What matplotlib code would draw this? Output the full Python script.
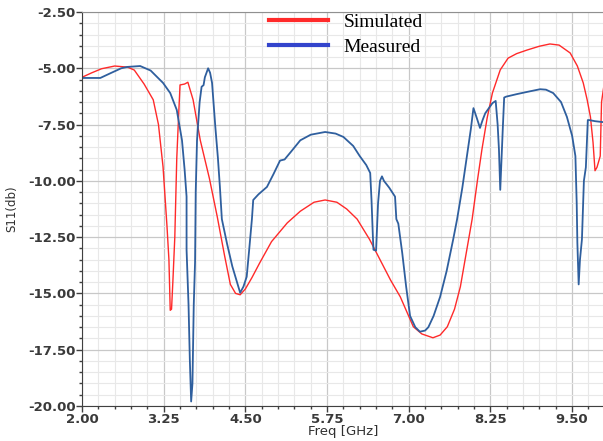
import matplotlib
matplotlib.use('Agg')
import matplotlib.pyplot as plt
from matplotlib.lines import Line2D
from matplotlib.ticker import MultipleLocator, FormatStrFormatter

plt.rcParams['font.family'] = 'DejaVu Sans'

# Simulated S11 (red)
sim_freq = [2.00, 2.15, 2.30, 2.50, 2.70, 2.80, 2.95, 3.09, 3.17, 3.24, 3.30, 3.33,
            3.35, 3.37, 3.39, 3.42, 3.45, 3.48, 3.50, 3.57, 3.62, 3.70, 3.81, 3.95,
            4.07, 4.18, 4.27, 4.35, 4.42, 4.50, 4.60, 4.72, 4.90, 5.14, 5.34, 5.55,
            5.72, 5.90, 6.05, 6.21, 6.40, 6.56, 6.72, 6.87, 7.07, 7.20, 7.37, 7.48,
            7.59, 7.70, 7.79, 7.88, 7.97, 8.05, 8.12, 8.20, 8.28, 8.40, 8.52, 8.65,
            8.81, 9.00, 9.16, 9.30, 9.47, 9.58, 9.67, 9.73, 9.78, 9.82, 9.85, 9.88,
            9.93, 9.95, 10.00]
sim_s11 = [-5.40, -5.20, -5.02, -4.90, -4.95, -5.08, -5.70, -6.40, -7.50, -9.38, -12.0, -13.5,
           -15.75, -15.70, -14.5, -12.5, -9.0, -7.0, -5.74, -5.70, -5.62, -6.4, -8.2, -9.9,
           -11.6, -13.3, -14.6, -15.0, -15.06, -14.8, -14.3, -13.64, -12.7, -11.87, -11.35, -10.95,
           -10.85, -10.95, -11.25, -11.7, -12.6, -13.5, -14.4, -15.15, -16.48, -16.80, -16.97, -16.85,
           -16.48, -15.7, -14.7, -13.2, -11.7, -10.0, -8.6, -7.2, -6.1, -5.07, -4.55, -4.35,
           -4.19, -4.02, -3.92, -3.97, -4.32, -4.9, -5.65, -6.4, -7.16, -8.3, -9.55, -9.4,
           -8.9, -6.5, -5.5]

# Measured S11 (blue)
meas_freq = [2.00, 2.28, 2.45, 2.60, 2.69, 2.89, 3.05, 3.24, 3.35, 3.45, 3.53, 3.57,
             3.60, 3.60, 3.63, 3.65, 3.67, 3.69, 3.71, 3.73, 3.74, 3.76, 3.80, 3.83,
             3.86, 3.88, 3.93, 3.96, 3.99, 4.04, 4.08, 4.11, 4.14, 4.22, 4.30, 4.42,
             4.47, 4.52, 4.56, 4.60, 4.62, 4.70, 4.83, 4.93, 5.03, 5.10, 5.20, 5.34,
             5.50, 5.72, 5.88, 6.00, 6.15, 6.25, 6.35, 6.41, 6.43, 6.45, 6.46, 6.50,
             6.53, 6.56, 6.59, 6.62, 6.70, 6.79, 6.81, 6.84, 6.90, 6.96, 7.02, 7.10,
             7.17, 7.25, 7.30, 7.38, 7.48, 7.58, 7.68, 7.74, 7.82, 7.89, 7.95, 7.99,
             8.04, 8.09, 8.13, 8.17, 8.28, 8.33, 8.36, 8.38, 8.40, 8.42, 8.44, 8.46,
             8.49, 8.65, 8.81, 9.01, 9.10, 9.21, 9.33, 9.42, 9.50, 9.55, 9.57, 9.58,
             9.60, 9.62, 9.65, 9.68, 9.71, 9.74, 9.76, 9.85, 10.00]
meas_s11 = [-5.43, -5.43, -5.20, -5.00, -4.94, -4.90, -5.10, -5.65, -6.10, -6.85, -8.2, -9.5,
            -10.7, -13.06, -15.5, -17.95, -19.8, -19.0, -15.5, -13.6, -10.5, -8.2, -6.5, -5.82,
            -5.75, -5.4, -5.0, -5.2, -5.65, -7.6, -9.0, -10.27, -11.7, -12.8, -13.8, -14.97,
            -14.7, -14.26, -13.0, -11.7, -10.85, -10.6, -10.27, -9.7, -9.1, -9.05, -8.7, -8.2,
            -7.95, -7.83, -7.90, -8.05, -8.45, -8.9, -9.3, -9.65, -10.85, -12.4, -13.06, -13.1,
            -11.0, -10.0, -9.8, -10.0, -10.3, -10.7, -11.7, -11.9, -13.2, -14.7, -16.0, -16.5,
            -16.7, -16.65, -16.5, -16.0, -15.15, -14.0, -12.6, -11.7, -10.3, -8.9, -7.7, -6.77,
            -7.2, -7.65, -7.3, -7.0, -6.55, -6.45, -7.5, -8.6, -10.4, -9.0, -7.6, -6.3,
            -6.26, -6.15, -6.05, -5.93, -5.95, -6.1, -6.5, -7.16, -8.0, -8.9, -11.0, -12.75,
            -14.6, -13.5, -12.6, -10.0, -9.4, -7.3, -7.3, -7.35, -7.4]

x_ticks = [2.00, 3.25, 4.50, 5.75, 7.00, 8.25, 9.50]
y_ticks = [-20.0, -17.5, -15.0, -12.5, -10.0, -7.5, -5.0, -2.5]

red = '#FF2A2A'
blue = '#2F5F9E'

fig = plt.figure(figsize=(6.03, 4.41), dpi=100)
ax = fig.add_axes([0.136, 0.0794, 0.867, 0.8934])

ax.plot(sim_freq, sim_s11, color=red, lw=1.0)
ax.plot(meas_freq, meas_s11, color=blue, lw=1.3)

ax.set_xlim(2.0, 10.0)
ax.set_ylim(-20.0, -2.5)
ax.set_xticks(x_ticks)
ax.set_yticks(y_ticks)
ax.xaxis.set_minor_locator(MultipleLocator(0.25))
ax.yaxis.set_minor_locator(MultipleLocator(0.5))
ax.xaxis.set_major_formatter(FormatStrFormatter('%.2f'))
ax.yaxis.set_major_formatter(FormatStrFormatter('%.2f'))

ax.grid(which='major', color='#C8C8C8', lw=0.9)
ax.grid(which='minor', color='#E8E8E8', lw=0.8)
ax.set_axisbelow(True)

for lab in ax.get_xticklabels() + ax.get_yticklabels():
    lab.set_fontweight('bold')
    lab.set_fontsize(9.5)
    lab.set_color('#3A3A3A')
ax.tick_params(which='major', length=4, width=1, color='#404040')
ax.tick_params(which='minor', length=2.5, width=1, color='#404040')
ax.tick_params(axis='y', which='major', pad=0.5)
ax.tick_params(axis='x', which='major', pad=0.8)

ax.spines['left'].set_color('#404040')
ax.spines['bottom'].set_color('#404040')
ax.spines['top'].set_color('#909090')
ax.spines['right'].set_visible(False)

ax.set_xlabel('Freq [GHz]', fontsize=9.5, color='#303030')
ax.xaxis.set_label_coords(0.5, -0.049)
ax.set_ylabel('S11(db)', fontsize=8.5, color='#303030')
ax.yaxis.set_label_coords(-0.1225, 0.5)

handles = [Line2D([], [], color=red, lw=3), Line2D([], [], color='#3344CC', lw=3)]
leg = ax.legend(handles, ['Simulated', 'Measured'], loc='upper left',
                bbox_to_anchor=(0.34, 1.022), frameon=False, handlelength=3.0,
                handletextpad=0.8, labelspacing=0.4, borderpad=0,
                prop={'family': 'Liberation Serif', 'size': 14})

fig.savefig('out.png', dpi=100)
